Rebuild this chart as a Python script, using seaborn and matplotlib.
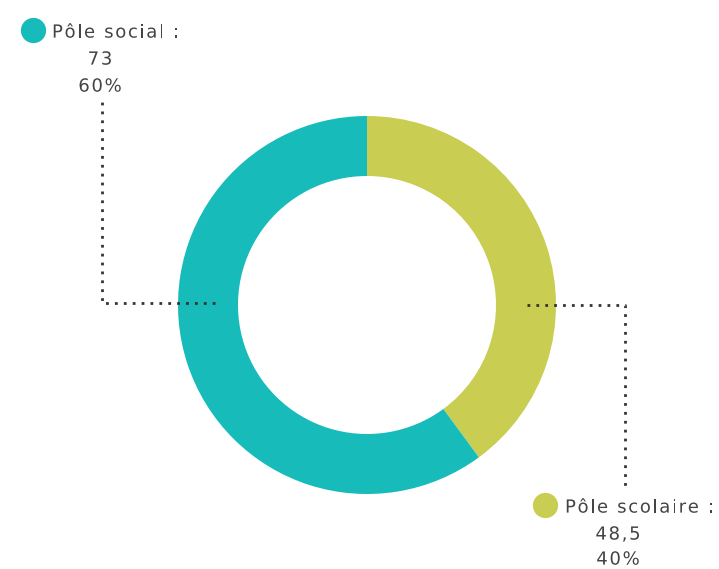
import matplotlib
matplotlib.use("Agg")
import matplotlib.pyplot as plt
import seaborn as sns
from matplotlib import font_manager, ft2font
from matplotlib.textpath import TextPath
from matplotlib.patches import PathPatch
from matplotlib.font_manager import FontProperties

# data
labels = ["Pôle scolaire", "Pôle social"]
values = [48.5, 73]
value_labels = ["48,5", "73"]
pct_labels = ["40%", "60%"]
colors = ["#C9CD52", "#17BBB9"]

sns.set_theme(style="white")
plt.rcParams["font.family"] = ["DejaVu Sans"]

W, H = 719, 569
fig = plt.figure(figsize=(W / 100, H / 100), dpi=100)
ax = fig.add_axes([0, 0, 1, 1])


def Y(y):
    # image row -> axes y
    return H - y


# donut
cx, cy, r = 367, 305, 189
ax.pie(values, colors=colors, startangle=90, counterclock=False,
       center=(cx, Y(cy)), radius=r, frame=True,
       wedgeprops=dict(width=60, edgecolor="none"))
ax.set_xlim(0, W)
ax.set_ylim(0, H)
ax.set_aspect("equal")
ax.axis("off")

txt = "#444444"
dot = dict(color="#333333", linestyle=(0, (1, 2.2)), linewidth=2)

# leader lines
ax.plot([215, 102, 102], [Y(303), Y(303), Y(100)], **dot)
ax.plot([527, 625, 625], [Y(305), Y(305), Y(487)], **dot)

fs = 13
px = fs * 100 / 72  # font size in pixels
track = 1.7  # extra spacing between letters, px
prop = FontProperties(family="DejaVu Sans")
font = ft2font.FT2Font(font_manager.findfont(prop))
font.set_size(fs, 100)


def spaced(x, y, s, ha="left"):
    # draw text with letter spacing; y is the vertical centre of capitals
    adv = [font.load_char(ord(c)).linearHoriAdvance / 65536 for c in s]
    total = sum(adv) + track * (len(s) - 1)
    if ha == "center":
        x = x - total / 2
    base = y - 0.365 * px
    for c, a in zip(s, adv):
        if c != " ":
            tp = TextPath((x, base), c, size=px, prop=prop)
            ax.add_patch(PathPatch(tp, color=txt, lw=0))
        x += a + track


# left label (social)
ax.scatter([33], [Y(30)], s=330, color=colors[1], zorder=3, linewidths=0)
spaced(52, Y(31), labels[1] + " :")
spaced(100, Y(58), value_labels[1], ha="center")
spaced(100, Y(85), pct_labels[1], ha="center")

# right label (scolaire)
ax.scatter([545], [Y(505)], s=330, color=colors[0], zorder=3, linewidths=0)
spaced(565, Y(506), labels[0] + " :")
spaced(618, Y(533), value_labels[0], ha="center")
spaced(618, Y(558), pct_labels[0], ha="center")

fig.savefig("out.png", dpi=100)
